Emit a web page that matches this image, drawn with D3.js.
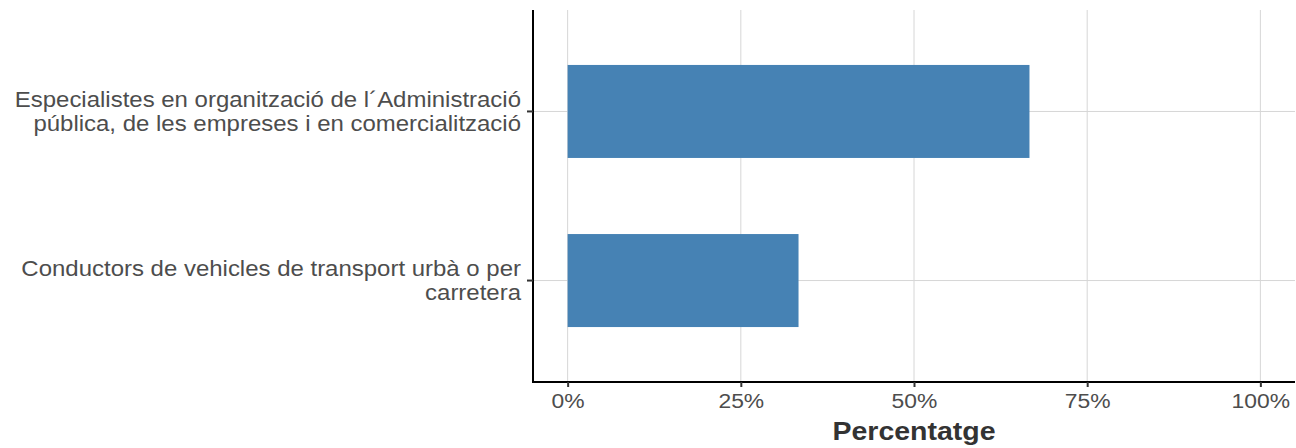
<!DOCTYPE html>
<html>
<head>
    <meta charset="utf-8">
    <script src="https://d3js.org/d3.v7.min.js"></script>
    <style>
        body { margin: 0; background: #fff; }
        text { font-family: "Liberation Sans", Arial, sans-serif; }
    </style>
</head>
<body>
    <script type="text/javascript">

        // chart data
        var categories = [
            "Especialistes en organització de l´Administració pública, de les empreses i en comercialització",
            "Conductors de vehicles de transport urbà o per carretera"
        ];
        var values = [0.6667, 0.3333];
        var xTicks = [0, 0.25, 0.5, 0.75, 1];
        var xTitle = "Percentatge";

        var W = 1296, H = 448;
        var margin = { top: 10, right: 1, bottom: 66, left: 533 },
            width = W - margin.left - margin.right,
            height = H - margin.top - margin.bottom;

        // the reference text is a little wider than it is tall
        var stretch = 1.09;

        // wrap a label at ~50 characters, like str_wrap
        function wrap(s, n) {
            var words = s.split(" "), lines = [], cur = "";
            words.forEach(function (w) {
                if (cur === "") cur = w;
                else if ((cur + " " + w).length <= n) cur += " " + w;
                else { lines.push(cur); cur = w; }
            });
            if (cur) lines.push(cur);
            return lines;
        }

        var xScale = d3.scaleLinear()
            .domain([-0.05, 1.05])
            .range([0, width]);

        var yScale = d3.scaleBand()
            .domain(categories)
            .range([0, height])
            .paddingInner(0.45)
            .paddingOuter(0.325);

        var svg = d3.select("body")
            .append("svg")
            .attr("width", W)
            .attr("height", H)
            .append("g")
            .attr("transform", "translate(" + margin.left + "," + margin.top + ")");

        // grid lines
        svg.append("g")
            .selectAll("line.vgrid")
            .data(xTicks)
            .enter().append("line")
            .attr("x1", function (d) { return xScale(d); })
            .attr("x2", function (d) { return xScale(d); })
            .attr("y1", 0)
            .attr("y2", height)
            .attr("stroke", "#d6d6d6")
            .attr("stroke-width", 1);

        svg.append("g")
            .selectAll("line.hgrid")
            .data(categories)
            .enter().append("line")
            .attr("x1", 0)
            .attr("x2", width)
            .attr("y1", function (d) { return yScale(d) + yScale.bandwidth() / 2; })
            .attr("y2", function (d) { return yScale(d) + yScale.bandwidth() / 2; })
            .attr("stroke", "#d6d6d6")
            .attr("stroke-width", 1);

        // bars
        svg.selectAll("rect.bar")
            .data(values)
            .enter().append("rect")
            .attr("class", "bar")
            .attr("x", xScale(0))
            .attr("y", function (d, i) { return yScale(categories[i]); })
            .attr("width", function (d) { return xScale(d) - xScale(0); })
            .attr("height", yScale.bandwidth())
            .attr("fill", "steelblue");

        // x axis
        var xAxis = svg.append("g")
            .attr("transform", "translate(0," + height + ")")
            .call(d3.axisBottom(xScale)
                .tickValues(xTicks)
                .tickSize(5)
                .tickPadding(6)
                .tickFormat(d3.format(".0%")));
        xAxis.select(".domain").attr("stroke", "#000").attr("stroke-width", 2)
            .attr("d", "M0,0H" + width);
        xAxis.selectAll(".tick line").attr("stroke", "#333").attr("stroke-width", 2);
        xAxis.selectAll(".tick text")
            .style("font-size", "21px")
            .attr("fill", "#4d4d4d")
            .attr("transform", "scale(" + stretch + ",1)");

        // y axis
        var yAxis = svg.append("g")
            .call(d3.axisLeft(yScale).tickSize(6).tickFormat(""));
        yAxis.select(".domain").attr("stroke", "#000").attr("stroke-width", 2)
            .attr("d", "M0,0V" + (height + 1));
        yAxis.selectAll(".tick line").attr("stroke", "#333").attr("stroke-width", 2);

        // wrapped category labels
        var labels = svg.append("g")
            .selectAll("text.ylab")
            .data(categories)
            .enter().append("text")
            .attr("text-anchor", "end")
            .attr("fill", "#4d4d4d")
            .style("font-size", "22px")
            .attr("transform", function (d) {
                return "translate(-12," + (yScale(d) + yScale.bandwidth() / 2) + ") scale(" + stretch + ",1)";
            });
        labels.each(function (d) {
            var lines = wrap(d, 50);
            var t = d3.select(this);
            var lh = 23.5;
            lines.forEach(function (l, i) {
                t.append("tspan")
                    .attr("x", 0)
                    .attr("y", (i - (lines.length - 1) / 2) * lh)
                    .attr("dy", "0.35em")
                    .text(l);
            });
        });

        // axis title
        svg.append("text")
            .attr("transform", "translate(" + (width / 2) + "," + (height + 58) + ") scale(1.14,1)")
            .attr("text-anchor", "middle")
            .style("font-size", "25px")
            .style("font-weight", "bold")
            .attr("fill", "#333")
            .text(xTitle);

    </script>
</body>
</html>
